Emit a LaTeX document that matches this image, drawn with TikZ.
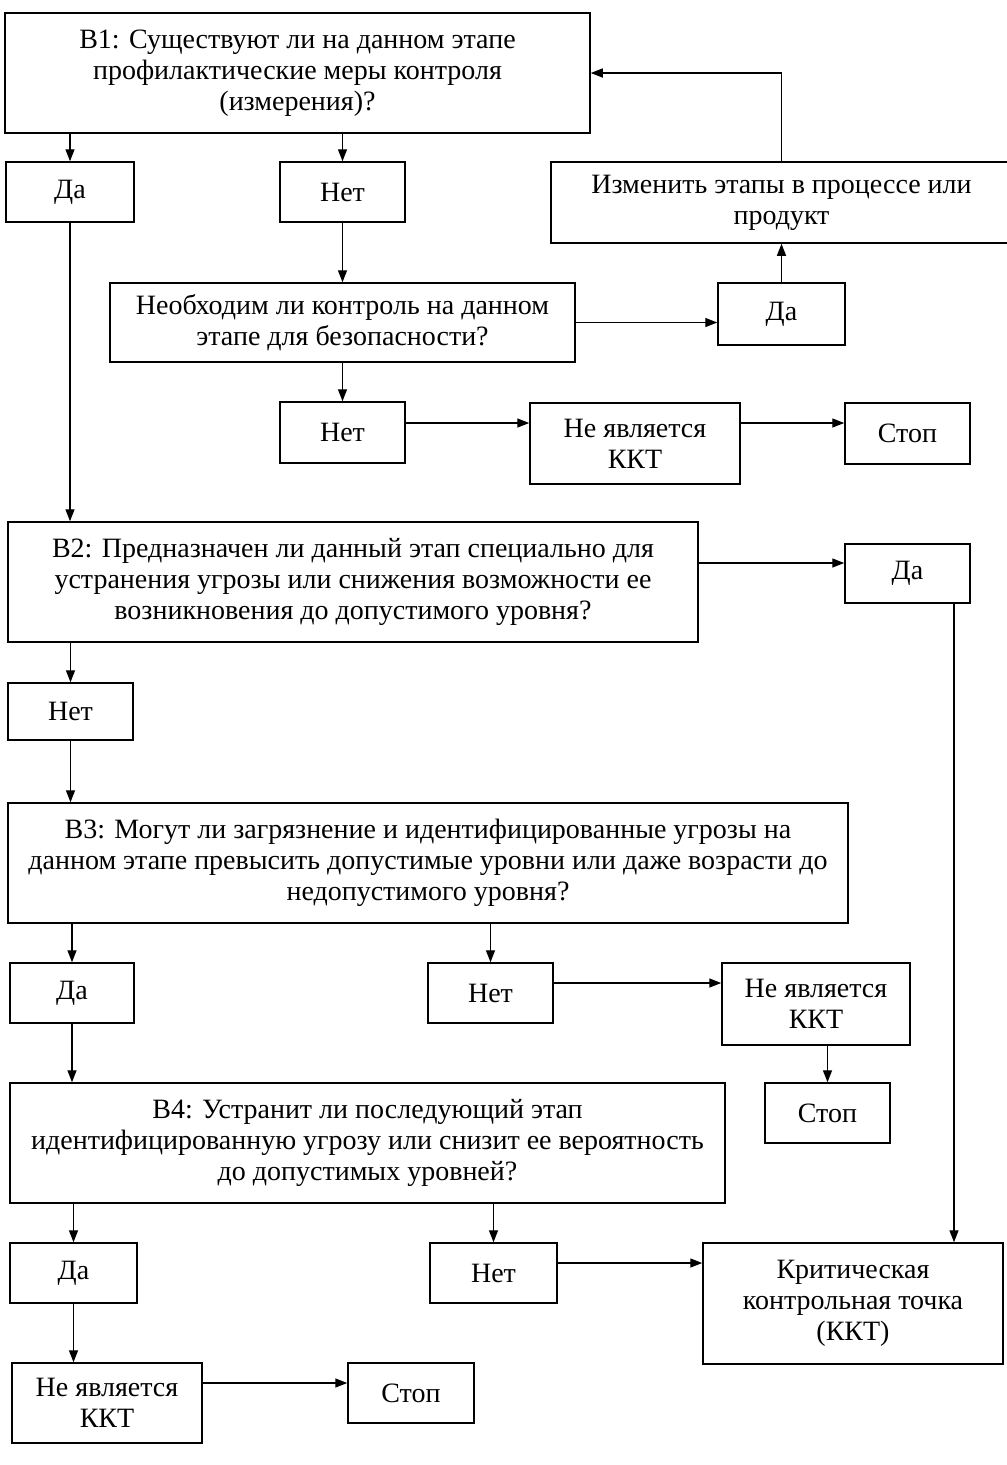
\documentclass[tikz,border=0pt]{standalone}
\usepackage{fontspec}
\setmainfont{Liberation Serif}
\usetikzlibrary{arrows.meta}

\tikzset{
  blk/.style={draw=black, line width=1.5pt, align=center, inner sep=0pt,
    font=\fontsize{28}{31}\selectfont},
  arr/.style={line width=1.4pt, -{Triangle[length=12pt,width=9pt]}}
}

\begin{document}
\begin{tikzpicture}[x=1pt,y=1pt]
\useasboundingbox (0,0) rectangle (1007,-1465);
\node (1) [blk, minimum width=585pt, minimum height=120pt] at (297.5,-73) {B1: Существуют ли на данном этапе\\профилактические меры контроля\\(измерения)?};
\node (2) [blk, minimum width=128pt, minimum height=60pt] at (70,-192) {Да};
\node (3) [blk, minimum width=125pt, minimum height=60pt] at (342.5,-192) {Нет};
\node (4) [blk, minimum width=461pt, minimum height=81pt] at (781.5,-202.5) {Изменить этапы в процессе или\\продукт};
\node (5) [blk, minimum width=465pt, minimum height=79pt] at (342.5,-322.5) {Необходим ли контроль на данном\\этапе для безопасности?};
\node (6) [blk, minimum width=127pt, minimum height=62pt] at (781.5,-314) {Да};
\node (7) [blk, minimum width=125pt, minimum height=61pt] at (342.5,-432.5) {Нет};
\node (8) [blk, minimum width=210pt, minimum height=81pt] at (635,-443.5) {Не является\\ККТ};
\node (9) [blk, minimum width=125pt, minimum height=61pt] at (907.5,-433.5) {Стоп};
\node (10) [blk, minimum width=690pt, minimum height=120pt] at (353,-582) {B2: Предназначен ли данный этап специально для\\устранения угрозы или снижения возможности ее\\возникновения до допустимого уровня?};
\node (11) [blk, minimum width=125pt, minimum height=59pt] at (907.5,-573.5) {Да};
\node (12) [blk, minimum width=125pt, minimum height=57pt] at (70.5,-711.5) {Нет};
\node (13) [blk, minimum width=840pt, minimum height=120pt] at (428,-863) {B3: Могут ли загрязнение и идентифицированные угрозы на\\данном этапе превысить допустимые уровни или даже возрасти до\\недопустимого уровня?};
\node (14) [blk, minimum width=124pt, minimum height=60pt] at (72,-993) {Да};
\node (15) [blk, minimum width=125pt, minimum height=60pt] at (490.5,-993) {Нет};
\node (16) [blk, minimum width=188pt, minimum height=82pt] at (816,-1004) {Не является\\ККТ};
\node (17) [blk, minimum width=125pt, minimum height=60pt] at (827.5,-1113) {Стоп};
\node (18) [blk, minimum width=715pt, minimum height=120pt] at (367.5,-1143) {B4: Устранит ли последующий этап\\идентифицированную угрозу или снизит ее вероятность\\до допустимых уровней?};
\node (19) [blk, minimum width=127pt, minimum height=60pt] at (73.5,-1273) {Да};
\node (20) [blk, minimum width=127pt, minimum height=60pt] at (493.5,-1273) {Нет};
\node (21) [blk, minimum width=300pt, minimum height=121pt] at (853,-1303.5) {Критическая\\контрольная точка\\(ККТ)};
\node (22) [blk, minimum width=190pt, minimum height=80pt] at (107,-1403) {Не является\\ККТ};
\node (23) [blk, minimum width=126pt, minimum height=60pt] at (411,-1393) {Стоп};

% B1
\draw [arr] (2 |- 1.south) -- (2);
\draw [arr] (3 |- 1.south) -- (3);
\draw [arr] (2) -- (2 |- 10.north);
\draw [arr] (3) -- (3 |- 5.north);
\draw [arr] (5) -- (5 -| 6.west);
\draw [arr] (6) -- (6 |- 4.south);
\draw [arr] (4.north) |- (1);
\draw [arr] (7 |- 5.south) -- (7);
\draw [arr] ([yshift=9.5pt]7.east) -- ([yshift=9.5pt]7.east -| 8.west);
\draw [arr] ([yshift=9.5pt]7.east -| 8.east) -- ([yshift=9.5pt]7.east -| 9.west);
% B2
\draw [arr] ([yshift=19pt]10.east) -- ([yshift=19pt]10.east -| 11.west);
\draw [arr] (12 |- 10.south) -- (12);
\draw [arr] (12) -- (12 |- 13.north);
\draw [arr] ([xshift=46.5pt]11.south) -- ([xshift=46.5pt]11.south |- 21.north);
% B3
\draw [arr] (14 |- 13.south) -- (14);
\draw [arr] (15 |- 13.south) -- (15);
\draw [arr] ([yshift=10pt]15.east) -- ([yshift=10pt]15.east -| 16.west);
\draw [arr] (17 |- 16.south) -- (17);
\draw [arr] (14) -- (14 |- 18.north);
% B4
\draw [arr] (19 |- 18.south) -- (19);
\draw [arr] (20 |- 18.south) -- (20);
\draw [arr] ([yshift=10pt]20.east) -- ([yshift=10pt]20.east -| 21.west);
\draw [arr] (19) -- (19 |- 22.north);
\draw [arr] ([yshift=20pt]22.east) -- ([yshift=20pt]22.east -| 23.west);
\end{tikzpicture}
\end{document}
